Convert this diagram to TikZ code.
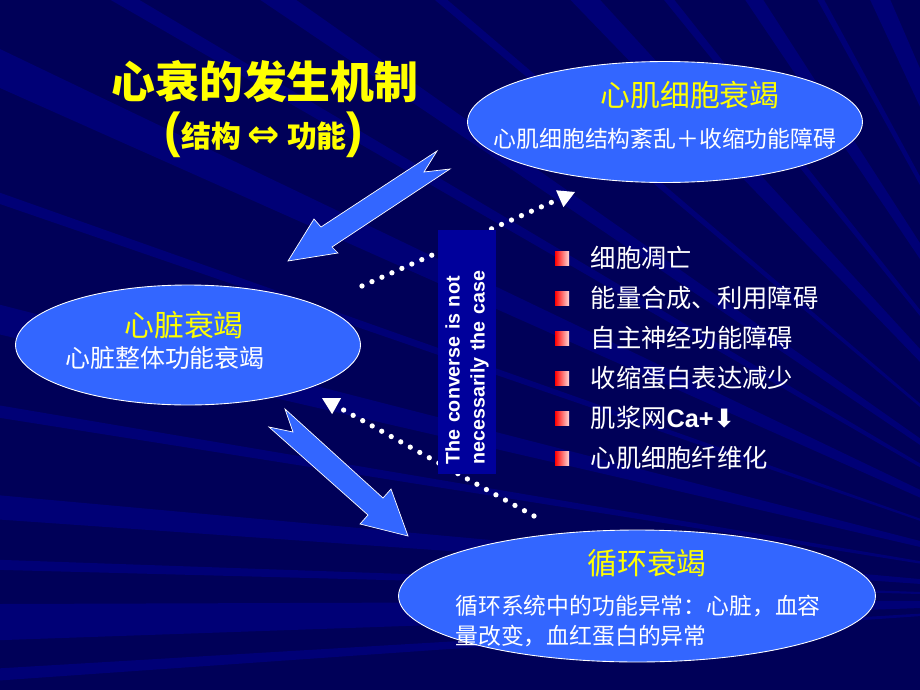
\documentclass[tikz,border=0pt]{standalone}
\usepackage{fontspec}
\setmainfont{Liberation Sans}
\newfontfamily\cjk{Noto Sans CJK SC}
\newfontfamily\symfont{DejaVu Sans}
\usepackage{tikz}
\usetikzlibrary{arrows.meta, positioning, shapes.geometric}
\usepackage{xcolor}

\definecolor{bgblue}{RGB}{0,0,88}
\definecolor{streak}{RGB}{0,0,160}
\definecolor{ovalblue}{RGB}{51,102,255}
\definecolor{boxblue}{RGB}{0,0,155}
\definecolor{titleyellow}{RGB}{255,255,0}

\tikzset{
  oval/.style={ellipse, draw=white, line width=0.5pt, fill=ovalblue, inner sep=0pt},
  headtxt/.style={text=titleyellow, font=\cjk\fontsize{17}{20}\selectfont},
  bodytxt/.style={text=white, font=\cjk\fontsize{13}{17}\selectfont},
  bigarrow/.style={fill=ovalblue, draw=white, line width=0.4pt, line join=miter},
  dotline/.style={white, line width=3pt, line cap=round, dash pattern=on 0pt off 6.2pt,
    -{Triangle[length=9.5pt, width=10.5pt, line width=0pt]}},
  bulletsq/.style={minimum size=0.28cm, inner sep=0pt, left color=red, right color=red!15!white},
  itemtxt/.style={text=white, inner sep=0pt, font=\cjk\fontsize{14.4}{17}\selectfont}
}

\begin{document}
\begin{tikzpicture}[x=0.02cm, y=-0.02cm]
  \useasboundingbox (0,0) rectangle (920,690);
  % background with rays
  \begin{scope}
    \clip (0,0) rectangle (920,690);
    \fill[bgblue] (0,0) rectangle (920,690);
    \coordinate (focus) at (1150,600);
    \foreach \a/\w in {176/0.6, 178/1.8, 181.5/0.5, 184/1.2, 189/0.6, 193/1.4, 199/0.5,
                       204/1.6, 210/0.7, 214/1.1, 220/0.5, 226/1.5, 231/0.6, 236/1.2, 241/0.5, 245/1.6}
      \fill[streak, fill opacity=0.42] (focus) -- +(\a:1700) -- +(\a+\w:1700) -- cycle;
  \end{scope}

  % title
  \node[text=titleyellow, font=\cjk\bfseries\fontsize{25}{30}\selectfont] (title) at (265,82) {心衰的发生机制};
  \node[text=titleyellow, font=\cjk\bfseries\fontsize{17}{20}\selectfont] (subtitle) at (264,135)
    {{\rmfamily\bfseries\fontsize{28}{28}\selectfont(}结构 {\symfont\fontsize{22}{22}\selectfont ⇔} 功能{\rmfamily\bfseries\fontsize{28}{28}\selectfont)}};

  % the three levels
  \node[oval, minimum width=7.9cm, minimum height=2.42cm] (cellfail) at (665,122) {};
  \node[headtxt] (cellhead) at (690,95) {心肌细胞衰竭};
  \node[bodytxt] (cellbody) at (665,139) {心肌细胞结构紊乱＋收缩功能障碍};

  \node[oval, minimum width=6.9cm, minimum height=2.4cm] (heartfail) at (188,345) {};
  \node[headtxt] (hearthead) at (184,325) {心脏衰竭};
  \node[bodytxt, font=\cjk\fontsize{14.2}{17}\selectfont] (heartbody) at (165,358) {心脏整体功能衰竭};

  \node[oval, minimum width=9.54cm, minimum height=2.64cm] (circfail) at (637,596) {};
  \node[headtxt] (circhead) at (647,563) {循环衰竭};
  \node[bodytxt, align=left, anchor=west, inner sep=0pt] (circbody) at (455,621)
    {循环系统中的功能异常：心脏，血容\\量改变，血红蛋白的异常};

  % block arrows
  \draw[bigarrow] (288,261) -- (314,219) -- (321,227) -- (437,151) -- (424,172)
    -- (450,169) -- (332,247) -- (338,253) -- cycle;
  \draw[bigarrow] (408,536) -- (391,489) -- (383,498) -- (285,409) -- (293,432)
    -- (269,427) -- (368,515) -- (360,524) -- cycle;

  % dotted back links
  \coordinate (upA) at (362,286);
  \coordinate (upB) at (575,192);
  \coordinate (downA) at (534,516);
  \coordinate (downB) at (322,398);
  \draw[dotline] (upA) -- (upB);
  \draw[dotline] (downA) -- (downB);

  % note box
  \node[rotate=90, fill=boxblue, text=white, font=\bfseries\fontsize{11.2}{14.2}\selectfont,
    align=left, text width=4.5cm, inner xsep=0.2cm, minimum height=1.16cm] (conv) at (467,352)
    {The converse is not\\necessarily the case};

  % list of causes
  \node[bulletsq] (b1) at (562,258) {};
  \node[itemtxt, right=0.42cm of b1] (t1) {细胞凋亡};
  \node[bulletsq] (b2) at (562,298) {};
  \node[itemtxt, right=0.42cm of b2] (t2) {能量合成、利用障碍};
  \node[bulletsq] (b3) at (562,338) {};
  \node[itemtxt, right=0.42cm of b3] (t3) {自主神经功能障碍};
  \node[bulletsq] (b4) at (562,378) {};
  \node[itemtxt, right=0.42cm of b4] (t4) {收缩蛋白表达减少};
  \node[bulletsq] (b5) at (562,418) {};
  \node[itemtxt, right=0.42cm of b5] (t5) {肌浆网{\rmfamily\bfseries Ca+}{\symfont\bfseries ⬇}};
  \node[bulletsq] (b6) at (562,458) {};
  \node[itemtxt, right=0.42cm of b6] (t6) {心肌细胞纤维化};
\end{tikzpicture}
\end{document}
